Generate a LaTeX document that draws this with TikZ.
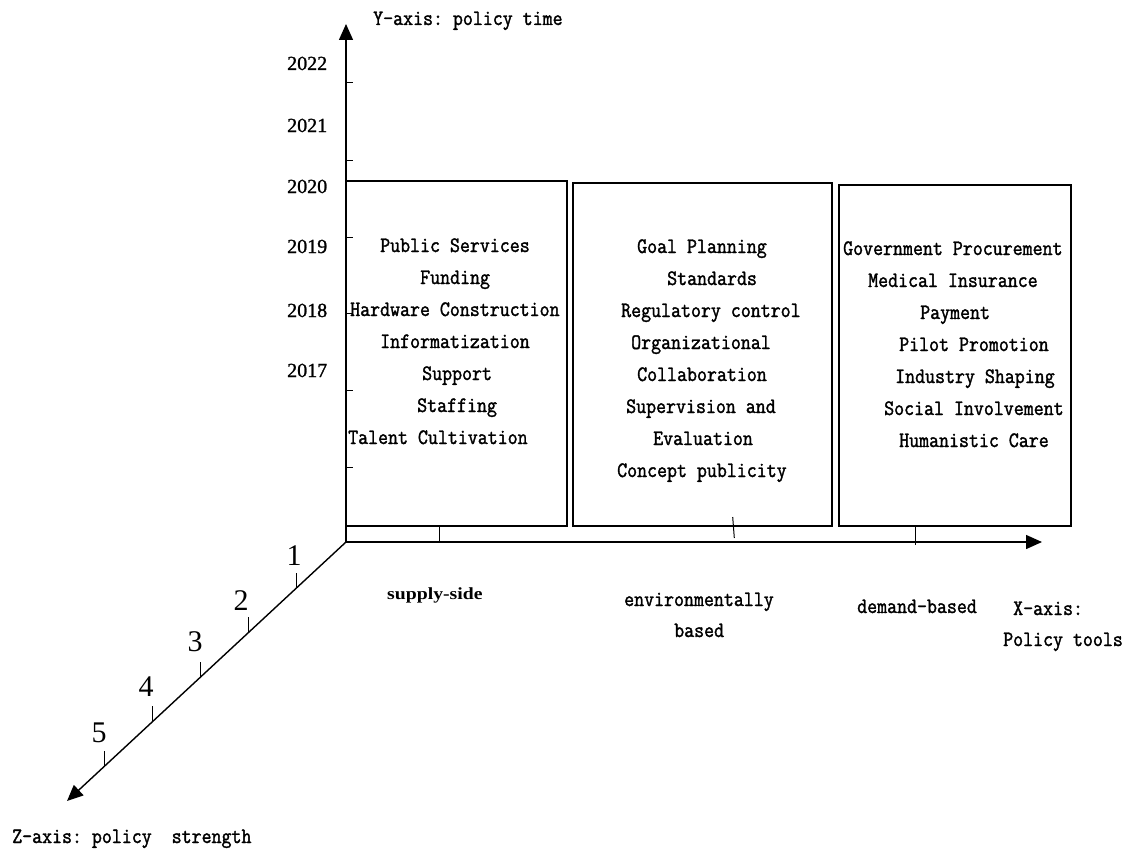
\documentclass[tikz,border=0pt]{standalone}
\usepackage{fontspec}
\usepackage{graphicx}
\setmonofont{Latin Modern Mono}[FakeBold=1.6, FakeStretch=0.88]
\newfontfamily\tnr{Liberation Serif}
\newfontfamily\tnryear{Liberation Serif}[FakeBold=1.2]
\usetikzlibrary{arrows.meta,calc}
\begin{document}
\begin{tikzpicture}[x=1pt,y=-1pt,
  mono/.style={font=\ttfamily\fontsize{22}{22}\selectfont, inner sep=0pt, anchor=base west},
  yearlbl/.style={font=\tnryear\fontsize{20}{20}\selectfont, inner sep=0pt, anchor=base west},
  znum/.style={font=\tnr\fontsize{30}{30}\selectfont, inner sep=0pt, anchor=base},
  boxnode/.style={draw, line width=1.8pt, inner sep=0pt, outer sep=0pt},
  axisline/.style={line width=1.4pt, -{Triangle[length=16pt,width=14pt]}},
  tickline/.style={line width=1pt}]
\useasboundingbox (0,0) rectangle (1131,851);

% boxes
\node[boxnode, minimum width=221pt, minimum height=345pt] (b1) at (456.5,353.5) {};
\node[boxnode, minimum width=259pt, minimum height=343pt] (b2) at (702.5,354.5) {};
\node[boxnode, minimum width=232pt, minimum height=341pt] (b3) at (955,355.5) {};

% axes
\coordinate (O) at (346,542);
\coordinate (Yt) at (346,24);
\coordinate (Xt) at (1042,542);
\coordinate (Zt) at (67,801);
\draw[axisline] (O) -- (Yt);
\draw[axisline] (O) -- (Xt);
\draw[axisline] (O) -- (Zt);

% Y ticks
\foreach \yy in {82,160,237,313,390,467}
  \draw[tickline] (346,\yy) -- ++(7,0);
% X ticks
\draw[tickline] (439,526) -- (439,542);
\draw[tickline] (732.7,517) -- (734.3,538);
\draw[tickline] (915,526) -- (915,545);
% Z ticks
\foreach \t in {0.176,0.348,0.52,0.692,0.864}
  \draw[tickline] ($(O)!\t!(Zt)$) -- ++(0,-15);

% axis labels
\node[mono] (ylab) at (373,25) {Y-axis: policy time};
\node[mono] (zlab) at (12,843) {Z-axis: policy~~strength};
\node[mono] (xlab1) at (1013,615) {X-axis:};
\node[mono] (xlab2) at (1003,646) {Policy tools};

% years
\node[yearlbl] (y22) at (287,70) {2022};
\node[yearlbl] (y21) at (287,132) {2021};
\node[yearlbl] (y20) at (287,193) {2020};
\node[yearlbl] (y19) at (287,253) {2019};
\node[yearlbl] (y18) at (287,317) {2018};
\node[yearlbl] (y17) at (287,377) {2017};

% strength numbers
\node[znum] (z1) at (294,565) {1};
\node[znum] (z2) at (241,610) {2};
\node[znum] (z3) at (195,651) {3};
\node[znum] (z4) at (146,696) {4};
\node[znum] (z5) at (99,742) {5};

% category labels
\node[font=\tnr\bfseries\fontsize{17}{17}\selectfont, inner sep=0pt, anchor=base west] (sup) at (387,599) {\scalebox{1.16}[1]{supply-side}};
\node[mono] (env1) at (624,606) {environmentally};
\node[mono] (env2) at (674,637) {based};
\node[mono] (dem) at (857,613) {demand-based};

% box 1 contents
\node[mono] (t11) at (380,252) {Public Services};
\node[mono] (t12) at (420,284) {Funding};
\node[mono] (t13) at (350,316) {Hardware Construction};
\node[mono] (t14) at (380,348) {Informatization};
\node[mono] (t15) at (422,380) {Support};
\node[mono] (t16) at (417,412) {Staffing};
\node[mono] (t17) at (348,444) {Talent Cultivation};

% box 2 contents
\node[mono] (t21) at (637,253) {Goal Planning};
\node[mono] (t22) at (667,285) {Standards};
\node[mono] (t23) at (621,317) {Regulatory control};
\node[mono] (t24) at (631,349) {Organizational};
\node[mono] (t25) at (637,381) {Collaboration};
\node[mono] (t26) at (626,413) {Supervision and};
\node[mono] (t27) at (653,445) {Evaluation};
\node[mono] (t28) at (617,477) {Concept publicity};

% box 3 contents
\node[mono] (t31) at (843,255) {Government Procurement};
\node[mono] (t32) at (868,287) {Medical Insurance};
\node[mono] (t33) at (920,319) {Payment};
\node[mono] (t34) at (899,351) {Pilot Promotion};
\node[mono] (t35) at (895,383) {Industry Shaping};
\node[mono] (t36) at (884,415) {Social Involvement};
\node[mono] (t37) at (899,447) {Humanistic Care};
\end{tikzpicture}
\end{document}
